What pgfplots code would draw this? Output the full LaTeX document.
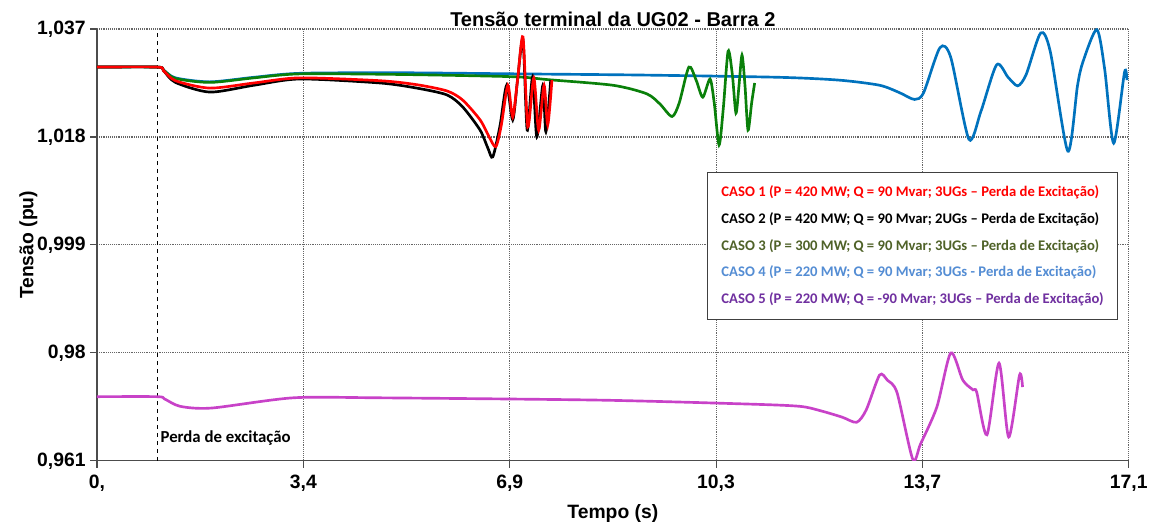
\documentclass[border=0pt]{standalone}
\usepackage{pgfplots}
\pgfplotsset{compat=1.18}
\usepackage{fontspec}
\setmainfont{Liberation Sans}
\newfontfamily\calibri{Carlito}

\definecolor{cRed}{RGB}{255,0,0}
\definecolor{cGreen}{RGB}{10,128,10}
\definecolor{cBlue}{RGB}{0,114,189}
\definecolor{cPurple}{RGB}{200,66,200}
\definecolor{lOlive}{RGB}{79,98,40}
\definecolor{lBlue}{RGB}{84,141,212}
\definecolor{lPurple}{RGB}{112,48,160}

\begin{document}
\begin{tikzpicture}
\begin{axis}[
    width=774pt, height=324pt, scale only axis,
    xmin=0, xmax=17.1, ymin=0.961, ymax=1.037,
    axis x line=bottom, axis y line=left,
    axis line style={-, gray!60!black, line width=0.8pt},
    xtick={0,3.42,6.84,10.26,13.68,17.1},
    xticklabels={{0,},{3,4},{6,9},{10,3},{13,7},{17,1}},
    ytick={0.961,0.98,0.999,1.018,1.037},
    yticklabels={{0,961},{0,98},{0,999},{1,018},{1,037}},
    tick align=outside, major tick length=5pt,
    tick style={gray!60!black, line width=0.8pt},
    grid=major,
    grid style={densely dotted, gray!80!black, line width=0.8pt},
    ticklabel style={font=\bfseries\fontsize{14.5}{16}\selectfont},
    xticklabel style={yshift=-2pt},
    title={Tensão terminal da UG02 - Barra 2},
    title style={font=\bfseries\fontsize{15}{17}\selectfont, yshift=-8pt},
    xlabel={Tempo (s)}, ylabel={Tensão (pu)},
    label style={font=\bfseries\fontsize{14.5}{16}\selectfont},
    xlabel style={yshift=-3pt},
    ylabel style={yshift=-7pt},
    every axis plot/.append style={line width=2pt, smooth, tension=0.45},
]
% dashed marker line: loss of excitation
\addplot[black, dashed, line width=0.8pt, sharp plot] coordinates {(1.0,0.961) (1.0,1.037)};

% CASO 5
\addplot[cPurple] coordinates {
(0,0.9723) (1,0.9723) (1.12,0.9719) (1.38,0.9706) (1.9,0.9703) (3.25,0.9721) (4.69,0.9721)
(8.3,0.9717) (10.8,0.9710) (11.65,0.9706) (12.0,0.9698) (12.35,0.9687) (12.59,0.9678) (12.75,0.9700)
(12.97,0.9761) (13.1,0.9752) (13.26,0.9730) (13.52,0.9613) (13.65,0.9640)
(13.92,0.9705) (14.15,0.9800) (14.35,0.9752) (14.52,0.9735) (14.58,0.9731)
(14.75,0.9656) (14.95,0.9782) (15.11,0.9652) (15.29,0.9761) (15.34,0.9740)};

% CASO 4
\addplot[cBlue] coordinates {
(0,1.0303) (1.0,1.0303) (1.1,1.0298) (1.3,1.0284) (1.87,1.0277) (2.6,1.0285) (3.36,1.0292)
(5,1.0293) (7,1.0291) (9,1.0289) (11.3,1.0285) (12.3,1.0280) (12.97,1.0271)
(13.3,1.0258) (13.55,1.0246) (13.7,1.0258) (13.97,1.0337) (14.15,1.0320)
(14.45,1.0176) (14.65,1.0225) (14.91,1.0307) (15.1,1.0285) (15.26,1.0270)
(15.4,1.0290) (15.64,1.0363) (15.8,1.0330) (16.09,1.0155) (16.25,1.0270)
(16.34,1.0312) (16.57,1.0369) (16.7,1.0300) (16.85,1.0169) (17.03,1.0294)
(17.07,1.0280)};

% CASO 3
\addplot[cGreen] coordinates {
(0,1.0303) (1,1.0303) (1.1,1.0298) (1.3,1.0283) (1.87,1.0276) (2.6,1.0284) (3.36,1.0291)
(5,1.0290) (6.9,1.0286) (7.46,1.0281) (8.55,1.0271) (9.11,1.0256) (9.33,1.0238)
(9.53,1.0216) (9.65,1.0240) (9.81,1.0303) (9.93,1.0280) (10.04,1.0250)
(10.16,1.0282) (10.23,1.0240) (10.31,1.0166) (10.38,1.0230) (10.46,1.0331)
(10.53,1.0290) (10.59,1.0222) (10.64,1.0270) (10.69,1.0324) (10.74,1.0270)
(10.79,1.0192) (10.85,1.0240) (10.90,1.0275)};

% CASO 2
\addplot[black] coordinates {
(0,1.0303) (1,1.0303) (1.1,1.0297) (1.3,1.0276) (1.87,1.0259) (2.6,1.0271) (3.36,1.0282)
(4.69,1.0275) (5.3,1.0266) (5.8,1.0254) (6.06,1.0233) (6.35,1.0192) (6.48,1.0160)
(6.56,1.0145) (6.68,1.0200) (6.79,1.0271) (6.89,1.0210) (6.97,1.0280)
(7.06,1.0351) (7.13,1.0192) (7.22,1.0286) (7.29,1.0180) (7.39,1.0271)
(7.44,1.0189) (7.52,1.0280)};

% CASO 1
\addplot[cRed] coordinates {
(0,1.0303) (1,1.0303) (1.1,1.0297) (1.3,1.0279) (1.87,1.0266) (2.6,1.0275) (3.36,1.0284)
(4.69,1.0279) (5.3,1.0272) (5.8,1.0261) (6.06,1.0245) (6.35,1.0210) (6.5,1.0180)
(6.61,1.0163) (6.7,1.0200) (6.81,1.0271) (6.89,1.0215) (6.97,1.0280)
(7.06,1.0356) (7.14,1.0198) (7.24,1.0284) (7.32,1.0192) (7.41,1.0271)
(7.47,1.0201) (7.54,1.0280)};

\node[anchor=west, font=\calibri\bfseries\fontsize{12.6}{14}\selectfont, inner sep=0pt]
  at (axis cs:1.05,0.9650) {Perda de excitação};

\node[draw=black!75, fill=white, line width=0.8pt, anchor=north west,
      minimum width=308pt, minimum height=110pt, align=left,
      font=\calibri\bfseries\fontsize{11}{20}\selectfont]
  at (rel axis cs:0.591,0.669) {%
  \textcolor{cRed}{CASO 1 (P = 420 MW; Q = 90 Mvar; 3UGs – Perda de Excitação)}\\
  \textcolor{black}{CASO 2 (P = 420 MW; Q = 90 Mvar; 2UGs – Perda de Excitação)}\\
  \textcolor{lOlive}{CASO 3 (P = 300 MW; Q = 90 Mvar; 3UGs – Perda de Excitação)}\\
  \textcolor{lBlue}{CASO 4 (P = 220 MW; Q = 90 Mvar; 3UGs - Perda de Excitação)}\\
  \textcolor{lPurple}{CASO 5 (P = 220 MW; Q = -90 Mvar; 3UGs – Perda de Excitação)}};
\end{axis}
% margins around the axis box, as in the reference
\path (current axis.south west) ++(-72.75pt,-49.5pt);
\path (current axis.north east) ++(17.25pt,21.75pt);
\end{tikzpicture}
\end{document}
